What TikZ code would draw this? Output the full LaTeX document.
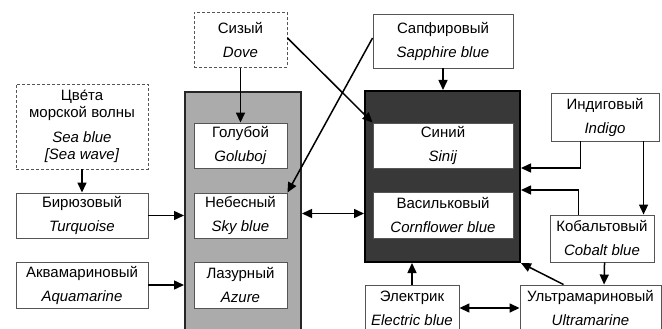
\documentclass[tikz,border=0pt]{standalone}
\usepackage{fontspec}
\setmainfont{Liberation Sans}
\usetikzlibrary{arrows.meta,calc}
\definecolor{greyfill}{HTML}{ABABAB}
\definecolor{darkfill}{HTML}{383838}
\definecolor{boxline}{HTML}{555555}
\tikzset{
  cbox/.style={draw=boxline, line width=0.9pt, fill=white, inner sep=0pt, align=center,
    font=\fontsize{15}{24}\selectfont},
  dbox/.style={cbox, dash pattern=on 3pt off 2pt},
  arr/.style={line width=1.5pt, -{Triangle[length=10pt,width=9pt]}},
  darr/.style={line width=1.5pt, {Triangle[length=10pt,width=9pt]}-{Triangle[length=10pt,width=9pt]}},
}
\begin{document}
\begin{tikzpicture}[x=1pt,y=-1pt]
\useasboundingbox (0,0) rectangle (662,329);
\clip (0,0) rectangle (662,329);
\fill[white] (0,0) rectangle (662,329);
% containers
\node[draw=black!85, line width=2pt, fill=greyfill, minimum width=116pt, minimum height=243pt, inner sep=0pt] (grey) at (243,213.5) {};
\node[draw=black, line width=2pt, fill=darkfill, minimum width=155pt, minimum height=171pt, inner sep=0pt] (dark) at (442.5,176.5) {};
% boxes
\node[dbox, minimum width=93pt, minimum height=55pt] (sizy) at (240.5,40) {Сизый\\\textit{Dove}};
\node[cbox, minimum width=140pt, minimum height=54pt] (sapph) at (443,41) {Сапфировый\\\textit{Sapphire blue}};
\node[dbox, minimum width=132pt, minimum height=85pt, font=\fontsize{15}{17}\selectfont] (sea) at (82,126.5) {Цве́та\\морской волны\\[8pt]\textit{Sea blue}\\\textit{[Sea wave]}};
\node[cbox, minimum width=132pt, minimum height=45pt] (turq) at (82,215.5) {Бирюзовый\\\textit{Turquoise}};
\node[cbox, minimum width=132pt, minimum height=46pt] (aqua) at (82,285) {Аквамариновый\\\textit{Aquamarine}};
\node[cbox, minimum width=93pt, minimum height=45pt] (golub) at (240.5,145.5) {Голубой\\\textit{Goluboj}};
\node[cbox, minimum width=93pt, minimum height=45pt] (nebes) at (240.5,215.5) {Небесный\\\textit{Sky blue}};
\node[cbox, minimum width=93pt, minimum height=46pt] (lazur) at (240.5,285) {Лазурный\\\textit{Azure}};
\node[cbox, minimum width=140pt, minimum height=45pt] (sinij) at (443,145.5) {Синий\\\textit{Sinij}};
\node[cbox, minimum width=140pt, minimum height=46pt] (vasil) at (443,215) {Васильковый\\\textit{Cornflower blue}};
\node[cbox, minimum width=108pt, minimum height=48pt] (indigo) at (605,117) {Индиговый\\\textit{Indigo}};
\node[cbox, minimum width=104pt, minimum height=47pt] (cobalt) at (602,238.5) {Кобальтовый\\\textit{Cobalt blue}};
\node[cbox, minimum width=141pt, minimum height=46pt] (ultra) at (590.5,308) {Ультрамариновый\\\textit{Ultramarine}};
\node[cbox, minimum width=94pt, minimum height=46pt] (elec) at (412,308) {Электрик\\\textit{Electric blue}};
% connectors
\draw[arr] (sizy.south) -- (golub.north);
\draw[arr] ([yshift=2pt]sizy.east) -- (sinij.north west);
\draw[arr] ([yshift=3pt]sapph.west) -- (nebes.north east);
\draw[arr] (sapph.south) -- (sapph.south |- dark.north);
\draw[arr] (sea.south) -- (turq.north);
\draw[arr] (turq.east) -- (turq.east -| grey.west);
\draw[arr] (aqua.east) -- (aqua.east -| grey.west);
\draw[darr] (grey.east) -- (grey.east -| dark.west);
\draw[arr] ([xshift=30pt]indigo.south west) |- ([yshift=8.5pt]dark.east);
\draw[arr] ([xshift=93pt]indigo.south west) -- ([xshift=94pt]cobalt.north west);
\draw[arr] ([xshift=29pt]cobalt.north west) |- ([yshift=-13.5pt]dark.east);
\draw[arr] ([xshift=55pt]cobalt.south west) -- ([xshift=84.5pt]ultra.north west);
\draw[arr] (elec.north) -- (elec.north |- dark.south);
\draw[darr] (elec.east) -- (ultra.west);
\draw[arr] ([xshift=44pt]ultra.north west) -- (dark.south east);
\end{tikzpicture}
\end{document}
